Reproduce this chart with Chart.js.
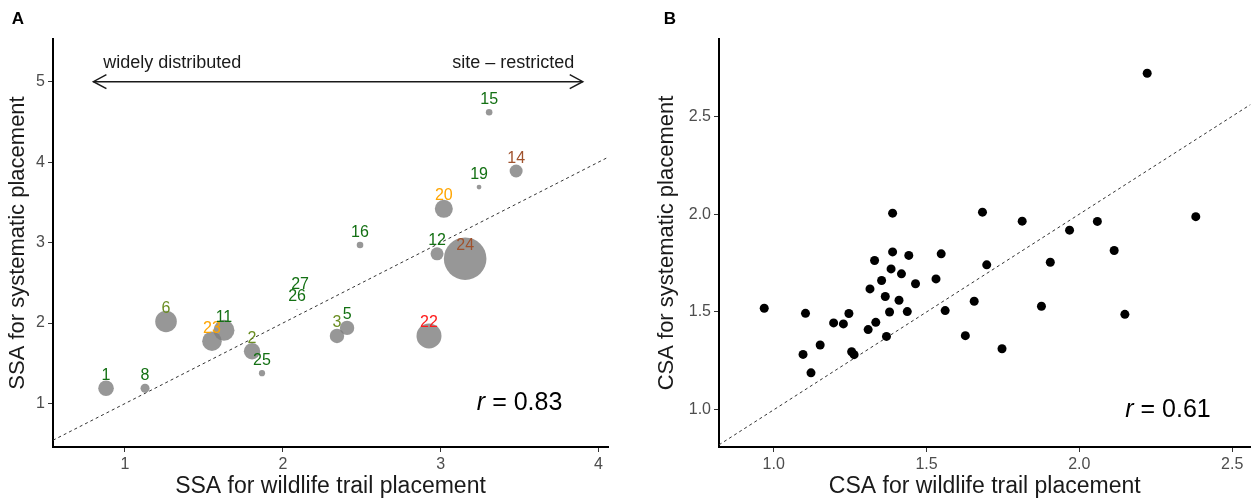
<!DOCTYPE html>
<html><head><meta charset="utf-8">
<script src="https://cdn.jsdelivr.net/npm/chart.js@4.4.0/dist/chart.umd.min.js"></script>
<style>
html,body{margin:0;padding:0;background:#fff;}
#wrap{position:relative;width:1255px;height:500px;overflow:hidden;background:#fff;}
#cA{position:absolute;left:0;top:0;}
#cB{position:absolute;left:630px;top:0;}
</style></head><body>
<div id="wrap">
<canvas id="cA" width="630" height="500"></canvas>
<canvas id="cB" width="625" height="500"></canvas>
</div>
<script>
// ---------- Panel A data ----------
const speciesA = ['1','8','6','23','11','2','25','26','27','3','5','22','16','12','24','20','19','14','15'];
const xA = [0.88,1.127,1.26,1.551,1.627,1.805,1.868,2.09,2.109,2.343,2.407,2.926,2.489,2.977,3.155,3.02,3.243,3.478,3.307];
const yA = [1.19,1.19,2.02,1.775,1.91,1.65,1.377,2.17,2.32,1.84,1.94,1.84,2.97,2.86,2.80,3.42,3.69,3.89,4.62];
const sizeA = [7.8,4.5,10.8,9.8,10.5,8.2,3.1,0.6,0.3,7.2,7.2,12.5,3.3,6.5,21.3,9,2.4,6.5,3.3];
const groupA = ['g1','g1','g2','g3','g1','g2','g1','g1','g1','g2','g1','g4','g1','g1','g5','g3','g1','g5','g1'];
const xTicksA = [1,2,3,4];
const xTickLabelsA = ['1','2','3','4'];
const yTicksA = [1,2,3,4,5];
const yTickLabelsA = ['1','2','3','4','5'];
const xLimA = [0.544, 4.06];
const yLimA = [0.46, 5.53];
const rA = '0.83';

// ---------- Panel B data ----------
const xB = [0.969,1.104,1.096,1.122,1.152,1.196,1.228,1.246,1.255,1.263,1.309,1.315,1.330,1.334,1.353,1.365,1.369,1.379,1.384,1.389,1.389,1.410,1.418,1.437,1.442,1.464,1.531,1.548,1.561,1.627,1.656,1.683,1.697,1.747,1.813,1.876,1.905,1.968,2.059,2.114,2.149,2.222,2.381];
const yB = [1.519,1.493,1.283,1.189,1.331,1.444,1.439,1.492,1.297,1.282,1.410,1.618,1.763,1.447,1.661,1.579,1.375,1.500,1.720,2.005,1.807,1.560,1.695,1.502,1.789,1.644,1.669,1.797,1.507,1.379,1.555,2.010,1.741,1.312,1.964,1.529,1.754,1.918,1.963,1.814,1.488,2.720,1.987];
const xTicksB = [1.0,1.5,2.0,2.5];
const xTickLabelsB = ['1.0','1.5','2.0','2.5'];
const yTicksB = [1.0,1.5,2.0,2.5];
const yTickLabelsB = ['1.0','1.5','2.0','2.5'];
const xLimB = [0.821, 2.56];
const yLimB = [0.81, 2.895];
const rB = '0.61';

// ---------- styles ----------
const FONT = "'Liberation Sans', Arial, Helvetica, sans-serif";
const groupColour = {g1:'#137013', g2:'#6b8e23', g3:'#ffa500', g4:'#ff1a1a', g5:'#a0522d'};
Chart.defaults.font.family = FONT;

function makeScale(ticks, labels, lim, title, fitSize, horizontal, titlePad, titleSize){
  return {
    type:'linear', min: lim[0], max: lim[1],
    afterBuildTicks: s => { s.ticks = ticks.map(v => ({value:v})); },
    afterFit: s => { if (horizontal) s.height = fitSize; else s.width = fitSize; },
    ticks:{ callback:(v,i)=>labels[i], font:{size:16,family:FONT}, color:'#4d4d4d', padding:3, maxRotation:0, autoSkip:false },
    grid:{ drawOnChartArea:false, drawTicks:true, tickLength:5, color:'#333', lineWidth:1 },
    border:{ display:true, color:'#000', width:2 },
    title:{ display:true, text:title, color:'#1a1a1a', font:{size:titleSize,family:FONT,lineHeight:1}, padding: titlePad }
  };
}

function decorPlugin(cfg){
  return {
    id:'decor'+cfg.letter,
    afterDatasetsDraw(chart){
      const ctx = chart.ctx, xs = chart.scales.x, ys = chart.scales.y;
      ctx.save();
      ctx.fillStyle = '#000';
      ctx.font = 'bold 17px ' + FONT;
      ctx.textAlign = 'center'; ctx.textBaseline = 'middle';
      ctx.fillText(cfg.letter, cfg.letterX, 19);
      if (cfg.labels){
        ctx.font = '16px ' + FONT;
        cfg.labels.forEach((t,i)=>{
          ctx.fillStyle = groupColour[cfg.groups[i]];
          ctx.fillText(t, xs.getPixelForValue(cfg.xs[i]), ys.getPixelForValue(cfg.ys[i] + cfg.nudge));
        });
      }
      if (cfg.arrow){
        const a = cfg.arrow;
        const x1 = xs.getPixelForValue(a.from), x2 = xs.getPixelForValue(a.to), yy = ys.getPixelForValue(a.y);
        ctx.strokeStyle = '#1a1a1a'; ctx.lineWidth = 1.5;
        ctx.beginPath(); ctx.moveTo(x1,yy); ctx.lineTo(x2,yy); ctx.stroke();
        ctx.beginPath(); ctx.moveTo(x1+13,yy-7); ctx.lineTo(x1,yy); ctx.lineTo(x1+13,yy+7); ctx.stroke();
        ctx.beginPath(); ctx.moveTo(x2-13,yy-7); ctx.lineTo(x2,yy); ctx.lineTo(x2-13,yy+7); ctx.stroke();
        ctx.fillStyle = '#1a1a1a'; ctx.font = '18px ' + FONT;
        ctx.textAlign = 'center';
        ctx.fillText(a.leftText, xs.getPixelForValue(a.leftX), ys.getPixelForValue(a.textY));
        ctx.fillText(a.rightText, xs.getPixelForValue(a.rightX), ys.getPixelForValue(a.textY));
      }
      const cx = xs.getPixelForValue(cfg.rX), cy = ys.getPixelForValue(cfg.rY);
      ctx.fillStyle = '#000';
      ctx.font = 'italic 25px ' + FONT;
      const w1 = ctx.measureText('r').width;
      ctx.font = '25px ' + FONT;
      const rest = ' = ' + cfg.r;
      const w2 = ctx.measureText(rest).width;
      const sx = cx - (w1+w2)/2;
      ctx.textAlign = 'left';
      ctx.font = 'italic 25px ' + FONT;
      ctx.fillText('r', sx, cy);
      ctx.font = '25px ' + FONT;
      ctx.fillText(rest, sx + w1, cy);
      ctx.restore();
    }
  };
}

function identityLine(xl, yl){
  const lo = Math.max(xl[0], yl[0]), hi = Math.min(xl[1], yl[1]);
  return [{x:lo,y:lo},{x:hi,y:hi}];
}

// ---------- Panel A ----------
new Chart(document.getElementById('cA'), {
  type:'bubble',
  data:{ datasets:[
    { type:'bubble', data: xA.map((x,i)=>({x, y:yA[i], r:sizeA[i]})),
      backgroundColor:'rgba(125,125,125,0.8)', borderWidth:0, hoverRadius:0 },
    { type:'line', data: identityLine(xLimA, yLimA), borderColor:'#333', borderWidth:1,
      borderDash:[3,3], pointRadius:0, fill:false, clip:0 }
  ]},
  options:{
    responsive:false, animation:false, devicePixelRatio:1,
    layout:{ padding:{left:0, top:39, right:22, bottom:0} },
    plugins:{ legend:{display:false}, tooltip:{enabled:false} },
    scales:{
      x: makeScale(xTicksA, xTickLabelsA, xLimA, 'SSA for wildlife trail placement', 53, true, {top:0,bottom:2}, 23),
      y: makeScale(yTicksA, yTickLabelsA, yLimA, 'SSA for systematic placement', 53, false, {top:7,bottom:0}, 22)
    }
  },
  plugins:[decorPlugin({letter:'A', letterX:18, labels:speciesA, groups:groupA, xs:xA, ys:yA, nudge:0.16,
    arrow:{from:0.8, to:3.9, y:5, textY:5.23, leftText:'widely distributed', leftX:1.3, rightText:'site \u2013 restricted', rightX:3.46},
    rX:3.5, rY:1.0, r:rA})]
});

// ---------- Panel B ----------
new Chart(document.getElementById('cB'), {
  type:'scatter',
  data:{ datasets:[
    { type:'scatter', data: xB.map((x,i)=>({x, y:yB[i]})),
      backgroundColor:'#000', borderWidth:0, pointRadius:4.5, pointHoverRadius:4.5 },
    { type:'line', data: identityLine(xLimB, yLimB), borderColor:'#333', borderWidth:1,
      borderDash:[3,3], pointRadius:0, fill:false, clip:0 }
  ]},
  options:{
    responsive:false, animation:false, devicePixelRatio:1,
    layout:{ padding:{left:0, top:39, right:0, bottom:0} },
    plugins:{ legend:{display:false}, tooltip:{enabled:false} },
    scales:{
      x: makeScale(xTicksB, xTickLabelsB, xLimB, 'CSA for wildlife trail placement', 53, true, {top:0,bottom:2}, 23),
      y: makeScale(yTicksB, yTickLabelsB, yLimB, 'CSA for systematic placement', 89, false, {top:26,bottom:0}, 22)
    }
  },
  plugins:[decorPlugin({letter:'B', letterX:40, rX:2.29, rY:1.0, r:rB})]
});
</script>
</body></html>
